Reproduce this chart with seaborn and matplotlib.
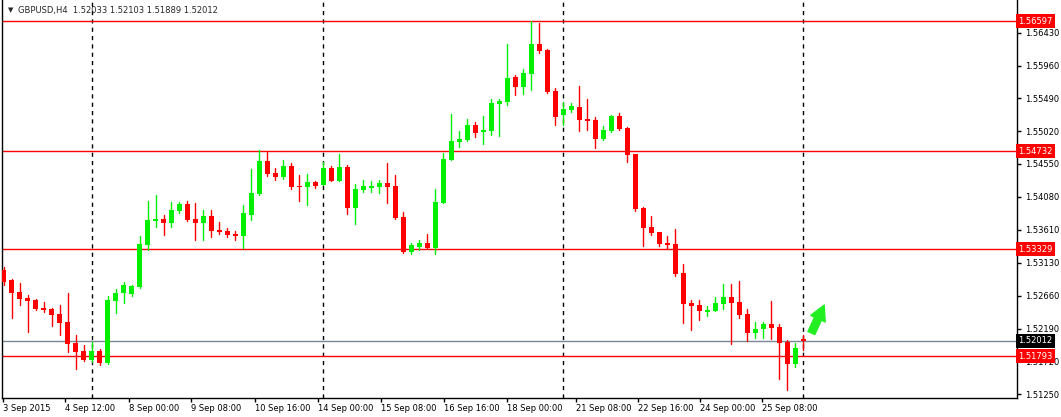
import matplotlib
matplotlib.use("Agg")
import matplotlib.pyplot as plt
import seaborn as sns
import pandas as pd

sns.set_style("white")
plt.rcParams["font.family"] = ["DejaVu Sans"]

# GBPUSD H4 candles, 3 Sep 2015 .. 25 Sep 2015
opens = [
    1.53029, 1.52886, 1.52714, 1.52628, 1.52599, 1.52484, 1.52470, 1.52398, 1.52284, 1.51982,
    1.51868, 1.51739, 1.51868, 1.51696, 1.52585, 1.52699, 1.52685, 1.52785, 1.53388, 1.53732,
    1.53761, 1.53703, 1.53875, 1.53976, 1.53761, 1.53703, 1.53804, 1.53603, 1.53588, 1.53545,
    1.53517, 1.53818, 1.54119, 1.54592, 1.54420, 1.54363, 1.54521, 1.54234, 1.54219, 1.54291,
    1.54248, 1.54492, 1.54306, 1.54506, 1.53918, 1.54176, 1.54205, 1.54219, 1.54277, 1.54234,
    1.53789, 1.53287, 1.53359, 1.53416, 1.53345, 1.53990, 1.54607, 1.54865, 1.54893, 1.55109,
    1.55008, 1.55023, 1.55410, 1.55438, 1.55797, 1.55653, 1.55840, 1.56270, 1.56184, 1.55596,
    1.55252, 1.55324, 1.55367, 1.55195, 1.55180, 1.54908, 1.55023, 1.55238, 1.55066, 1.54693,
    1.53918, 1.53646, 1.53574, 1.53416, 1.53402, 1.52986, 1.52556, 1.52527, 1.52427, 1.52441,
    1.52542, 1.52642, 1.52570, 1.52398, 1.52126, 1.52183, 1.52255, 1.52212, 1.51997, 1.51681,
    1.52033,
]
highs = [
    1.53072, 1.52900, 1.52843, 1.52671, 1.52613, 1.52570, 1.52484, 1.52527, 1.52699, 1.52097,
    1.51954, 1.51997, 1.51896, 1.52656, 1.52757, 1.52857, 1.52814, 1.53517, 1.54019, 1.54105,
    1.53818, 1.54004, 1.54004, 1.54019, 1.53990, 1.53890, 1.53890, 1.53718, 1.53631, 1.53588,
    1.53961, 1.54478, 1.54750, 1.54721, 1.54492, 1.54607, 1.54564, 1.54392, 1.54406, 1.54306,
    1.54578, 1.54521, 1.54693, 1.54535, 1.54262, 1.54320, 1.54306, 1.54320, 1.54564, 1.54392,
    1.53861, 1.53416, 1.53459, 1.53545, 1.54191, 1.54707, 1.55266, 1.55023, 1.55195, 1.55152,
    1.55238, 1.55481, 1.55481, 1.56270, 1.55826, 1.55912, 1.56597, 1.56571, 1.56198, 1.55639,
    1.55438, 1.55424, 1.55668, 1.55481, 1.55223, 1.55094, 1.55252, 1.55281, 1.55080, 1.54693,
    1.53933, 1.53804, 1.53574, 1.53517, 1.53617, 1.53115, 1.52599, 1.52599, 1.52513, 1.52642,
    1.52828, 1.52828, 1.52872, 1.52470, 1.52284, 1.52284, 1.52585, 1.52255, 1.52025, 1.51982,
    1.52103,
]
lows = [
    1.52814, 1.52341, 1.52527, 1.52140, 1.52456, 1.52427, 1.52226, 1.52097, 1.51853, 1.51610,
    1.51725, 1.51710, 1.51667, 1.51681, 1.52413, 1.52556, 1.52656, 1.52771, 1.53316, 1.53646,
    1.53531, 1.53646, 1.53847, 1.53732, 1.53459, 1.53459, 1.53502, 1.53545, 1.53502, 1.53459,
    1.53345, 1.53746, 1.54105, 1.54377, 1.54320, 1.54334, 1.54191, 1.54019, 1.53961, 1.54205,
    1.54248, 1.54306, 1.54306, 1.53832, 1.53689, 1.54148, 1.54148, 1.54133, 1.53990, 1.53761,
    1.53273, 1.53259, 1.53316, 1.53345, 1.53259, 1.53990, 1.54607, 1.54793, 1.54879, 1.54936,
    1.54836, 1.54965, 1.54951, 1.55395, 1.55539, 1.55553, 1.55610, 1.56141, 1.55570, 1.55109,
    1.55109, 1.55295, 1.55023, 1.55037, 1.54779, 1.54893, 1.55008, 1.55037, 1.54578, 1.53875,
    1.53373, 1.53531, 1.53373, 1.53330, 1.52943, 1.52269, 1.52169, 1.52312, 1.52370, 1.52441,
    1.52470, 1.51968, 1.52341, 1.52011, 1.52054, 1.52054, 1.52040, 1.51466, 1.51308, 1.51638,
    1.51889,
]
closes = [
    1.52857, 1.52699, 1.52613, 1.52585, 1.52470, 1.52456, 1.52384, 1.52269, 1.51968, 1.51853,
    1.51739, 1.51868, 1.51696, 1.52599, 1.52699, 1.52814, 1.52800, 1.53402, 1.53746, 1.53761,
    1.53703, 1.53890, 1.53976, 1.53746, 1.53703, 1.53804, 1.53588, 1.53574, 1.53531, 1.53517,
    1.53847, 1.54133, 1.54592, 1.54406, 1.54363, 1.54521, 1.54219, 1.54219, 1.54291, 1.54234,
    1.54492, 1.54306, 1.54506, 1.53918, 1.54191, 1.54234, 1.54234, 1.54277, 1.54219, 1.53775,
    1.53287, 1.53388, 1.53416, 1.53345, 1.54004, 1.54621, 1.54879, 1.54908, 1.55109, 1.54994,
    1.55037, 1.55424, 1.55453, 1.55783, 1.55653, 1.55854, 1.56270, 1.56170, 1.55582, 1.55223,
    1.55338, 1.55381, 1.55180, 1.55166, 1.54908, 1.55037, 1.55238, 1.55051, 1.54678, 1.53904,
    1.53631, 1.53560, 1.53402, 1.53388, 1.52972, 1.52542, 1.52513, 1.52441, 1.52456, 1.52556,
    1.52642, 1.52556, 1.52384, 1.52126, 1.52183, 1.52255, 1.52198, 1.51982, 1.51681, 1.51911,
    1.52012,
]

levels = [1.56597, 1.54732, 1.53329, 1.51793]
bid = 1.52012
separators = [11, 40, 70, 100]

price_ticks = [1.56430, 1.55960, 1.55490, 1.55020, 1.54550, 1.54080,
               1.53610, 1.53130, 1.52660, 1.52190, 1.51720, 1.51250]
date_labels = ["3 Sep 2015", "4 Sep 12:00", "8 Sep 00:00", "9 Sep 08:00", "10 Sep 16:00",
               "14 Sep 00:00", "15 Sep 08:00", "16 Sep 16:00", "18 Sep 00:00", "21 Sep 08:00",
               "22 Sep 16:00", "24 Sep 00:00", "25 Sep 08:00"]
date_pos = [-0.1, 7.7, 15.7, 23.4, 31.5, 39.35, 47.2, 55.1, 62.95, 71.55, 79.35, 87.05, 94.8]

UP = "#00EE00"
DOWN = "#FF0000"

df = pd.DataFrame({"open": opens, "high": highs, "low": lows, "close": closes})
df["bar"] = range(len(df))
df["dir"] = ["up" if c >= o else "down" for o, c in zip(df["open"], df["close"])]

fig = plt.figure(figsize=(10.61, 4.17), dpi=100)
ax = fig.add_axes([2 / 1061, 19 / 417, 1015 / 1061, 398 / 417])

# wicks: one low-high segment per bar
wicks = df.melt(id_vars=["bar", "dir"], value_vars=["low", "high"], value_name="price")
sns.lineplot(data=wicks, x="bar", y="price", units="bar", hue="dir", estimator=None,
             palette={"up": UP, "down": DOWN}, linewidth=1, legend=False, ax=ax, zorder=3)

# bodies
bottom = df[["open", "close"]].min(axis=1)
height = (df["close"] - df["open"]).abs().clip(lower=0.00013)
colors = [UP if d == "up" else DOWN for d in df["dir"]]
ax.bar(df["bar"], height, bottom=bottom, width=0.62, color=colors, linewidth=0, zorder=4)

for s in separators:
    ax.axvline(s, color="black", linestyle=(0, (3, 3)), linewidth=1, zorder=2)

ytrans = ax.get_yaxis_transform()
for lv in levels:
    ax.axhline(lv, color="red", linewidth=1, zorder=2)
    ax.text(1.0012, lv, f"{lv:.5f}", transform=ytrans, ha="left", va="center", color="white",
            fontsize=6, clip_on=False, zorder=6,
            bbox=dict(boxstyle="square,pad=0.3", fc="red", ec="none"))
ax.axhline(bid, color="#7A8896", linewidth=1, zorder=2)
ax.text(1.0012, bid, f"{bid:.5f}", transform=ytrans, ha="left", va="center", color="white",
        fontsize=6, clip_on=False, zorder=6,
        bbox=dict(boxstyle="square,pad=0.3", fc="black", ec="none"))

# bullish arrow
ax.annotate("", xy=(102.6, 1.52527), xytext=(101.0, 1.52126),
            arrowprops=dict(arrowstyle="simple,head_length=0.9,head_width=0.95,tail_width=0.45",
                            color="#22EE22", mutation_scale=12, shrinkA=0, shrinkB=0), zorder=5)

ax.set_xlim(-0.19, 126.7)
ax.set_ylim(1.51194, 1.56901)
ax.yaxis.tick_right()
ax.set_yticks(price_ticks)
ax.set_yticklabels([f"{p:.5f}" for p in price_ticks])
ax.set_xticks(date_pos)
ax.set_xticklabels(date_labels)
for lab in ax.get_xticklabels():
    lab.set_ha("left")
ax.tick_params(axis="y", direction="out", length=3, width=1, pad=3, labelsize=6,
               colors="black", right=True, left=False)
ax.tick_params(axis="x", direction="out", length=3, width=1, pad=1.5, labelsize=6,
               colors="black", bottom=True)
ax.set_xlabel("")
ax.set_ylabel("")
ax.spines["top"].set_visible(False)
for side in ["left", "bottom", "right"]:
    ax.spines[side].set_color("black")
    ax.spines[side].set_linewidth(1)

fig.text(8 / 1061, 1 - 10 / 417, "\u25bc", fontsize=5, va="center", ha="left")
fig.text(18 / 1061, 1 - 10 / 417, "GBPUSD,H4  1.52033 1.52103 1.51889 1.52012",
         fontsize=6, va="center", ha="left")

fig.savefig("out.png", dpi=100)
